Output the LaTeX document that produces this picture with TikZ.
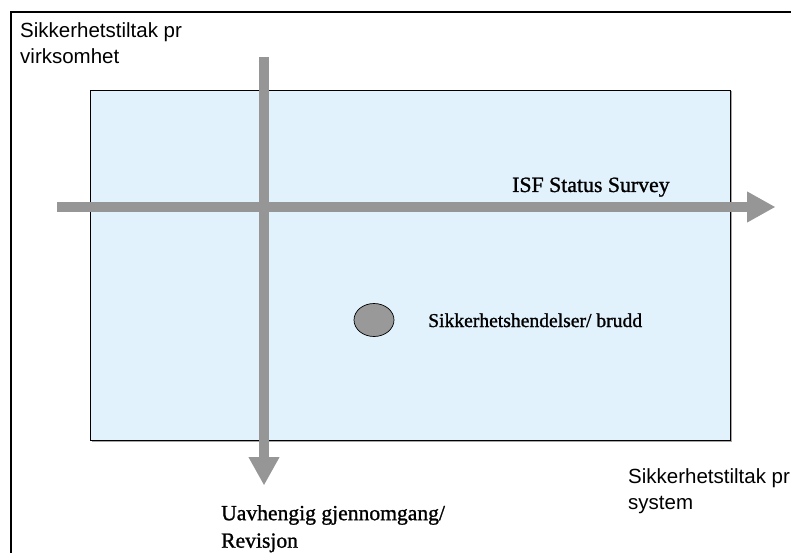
\documentclass[tikz,border=0pt]{standalone}
\usepackage{fontspec}
\usetikzlibrary{arrows.meta,shapes.geometric}
\setmainfont{Liberation Serif}
\newfontfamily\axisfont{Liberation Sans}
\newfontfamily\labelfont[FakeBold=1.1]{Liberation Serif}
\definecolor{panelblue}{HTML}{E1F2FD}
\definecolor{axisgray}{HTML}{969696}
\definecolor{dotgray}{HTML}{999999}
\tikzset{
  x=1pt, y=1pt,
  sanslabel/.style={inner sep=0pt, anchor=north west, align=left,
    font=\axisfont\fontsize{20.5}{26}\selectfont},
  seriflabel/.style={inner sep=0pt, font=\labelfont\fontsize{#1}{27.5}\selectfont},
  seriflabel/.default=20.5,
  axisarrow/.style={draw=axisgray, line width=9.5pt,
    -{Triangle[length=28.5pt, width=29pt]}},
}
\begin{document}
\begin{tikzpicture}
\useasboundingbox (0,0) rectangle (791,-553);
% outer frame (only top and left edges fall inside the page)
\draw[line width=2pt] (11,-560) -- (11,-12) -- (800,-12);
% shaded panel
\fill[gray!70] (91.5,-91.5) rectangle (731.5,-441.5);
\node[draw=black, fill=panelblue, line width=0.8pt, inner sep=0pt,
  minimum width=640pt, minimum height=350pt, anchor=north west] (panel) at (90,-90) {};
% axes
\coordinate (hstart) at (57,-207);
\coordinate (hend) at (775.5,-207);
\coordinate (vstart) at (264,-57);
\coordinate (vend) at (264,-485.5);
\draw[axisarrow] (hstart) -- (hend);
\draw[axisarrow] (vstart) -- (vend);
% incident marker
\node[ellipse, draw=black, fill=dotgray, line width=0.7pt, inner sep=0pt,
  minimum width=40pt, minimum height=33pt] (dot) at (374,-320) {};
% labels
\node[sanslabel] (topleft) at (20,-22) {Sikkerhetstiltak pr\\virksomhet};
\node[sanslabel] (bottomright) at (628,-468) {Sikkerhetstiltak pr\\system};
\node[seriflabel=21.8, anchor=base west] (isf) at (512,-192) {ISF Status Survey};
\node[seriflabel=19.6, anchor=base west] (incident) at (428,-327) {Sikkerhetshendelser/ brudd};
\node[seriflabel=21.6, anchor=north west, align=left] (audit) at (221,-505)
  {Uavhengig gjennomgang/\\Revisjon};
\end{tikzpicture}
\end{document}
